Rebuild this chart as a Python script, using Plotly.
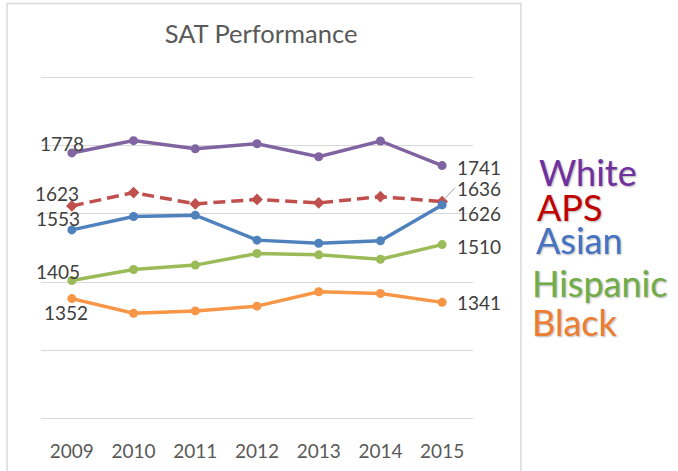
import plotly.graph_objects as go

years = ["2009", "2010", "2011", "2012", "2013", "2014", "2015"]

white = [1778, 1814, 1790, 1805, 1767, 1813, 1741]
aps = [1623, 1662, 1629, 1642, 1632, 1650, 1636]
asian = [1553, 1592, 1596, 1523, 1514, 1521, 1626]
hispanic = [1405, 1437, 1450, 1484, 1480, 1467, 1510]
black = [1352, 1309, 1316, 1330, 1372, 1367, 1341]

names = ["White", "APS", "Asian", "Hispanic", "Black"]
series = [white, aps, asian, hispanic, black]
line_colors = ["#8064A2", "#C0504D", "#4F81BD", "#9BBB59", "#F79646"]
name_colors = ["#7030A0", "#C00000", "#4472C4", "#70AD47", "#ED7D31"]

FONT = "Lato, 'Open Sans', sans-serif"
LABEL = "#404040"

fig = go.Figure()
for name, vals, col in zip(names, series, line_colors):
    dashed = name == "APS"
    fig.add_trace(go.Scatter(
        x=years, y=vals, mode="lines+markers", name=name,
        line=dict(color=col, width=3.5, dash="12px,6px" if dashed else "solid"),
        marker=dict(color=col, size=9, symbol="diamond" if dashed else "circle"),
        showlegend=False,
    ))

annotations = []
first_i, last_i = 0, len(years) - 1  # category positions on the x axis

# first-year value labels (left of the points)
first_shift = {"White": (14, 10), "APS": (9, 13), "Asian": (10, 12),
               "Hispanic": (10, 9), "Black": (18, -13)}
for name, vals in zip(names, series):
    dx, dy = first_shift[name]
    annotations.append(dict(
        x=first_i, y=vals[0], xref="x", yref="y", text=str(vals[0]),
        showarrow=False, xanchor="right", yanchor="middle", height=18,
        xshift=dx, yshift=dy, font=dict(family=FONT, size=19, color=LABEL)))

# last-year value labels (right of the points)
last_shift = {"White": -1, "Asian": -8, "Hispanic": -1, "Black": 0}
for name, vals in zip(names, series):
    if name == "APS":
        continue
    annotations.append(dict(
        x=last_i, y=vals[-1], xref="x", yref="y", text=str(vals[-1]),
        showarrow=False, xanchor="left", yanchor="middle", height=18,
        xshift=13, yshift=last_shift[name],
        font=dict(family=FONT, size=19, color=LABEL)))

# APS last label with a short leader line
annotations.append(dict(
    x=last_i, y=aps[-1], xref="x", yref="y", text=str(aps[-1]),
    showarrow=True, arrowhead=0, arrowwidth=1, arrowcolor="#A6A6A6",
    ax=13, ay=-14, xanchor="left", yanchor="middle", standoff=3, height=18,
    font=dict(family=FONT, size=19, color=LABEL)))

# group names written beside the plot, in their series colours
name_pos = {"White": (1.148, 0.722), "APS": (1.144, 0.620), "Asian": (1.141, 0.523),
            "Hispanic": (1.132, 0.398), "Black": (1.132, 0.284)}
for name, col in zip(names, name_colors):
    px, py = name_pos[name]
    annotations.append(dict(
        x=px, y=py, xref="paper", yref="paper", text=name, showarrow=False,
        xanchor="left", yanchor="middle",
        font=dict(family=FONT, size=36, color=col,
                  shadow="1px 1px 2px rgba(0,0,0,0.3)")))

fig.update_layout(
    width=678, height=471,
    margin=dict(l=41, r=205, t=76, b=51),
    paper_bgcolor="white", plot_bgcolor="white",
    title=dict(text="SAT Performance", x=0.385, y=0.928, xanchor="center",
               yanchor="middle", font=dict(family=FONT, size=25.5, color="#595959")),
    xaxis=dict(type="category", range=[-0.5, 6.5], showgrid=False, showline=False,
               zeroline=False, ticks="", ticklabelstandoff=18, automargin=False,
               tickfont=dict(family=FONT, size=19, color="#595959")),
    yaxis=dict(range=[997, 2003], tick0=1000, dtick=200, showgrid=True,
               gridcolor="#D9D9D9", gridwidth=1, showticklabels=False,
               zeroline=False, showline=False, automargin=False),
    annotations=annotations,
    shapes=[dict(type="rect", xref="paper", yref="paper",
                 x0=-0.0787, x1=1.111, y0=-0.2, y1=1.2105,
                 line=dict(color="#D9D9D9", width=1.5), layer="below")],
)

fig.write_html("out.html")
